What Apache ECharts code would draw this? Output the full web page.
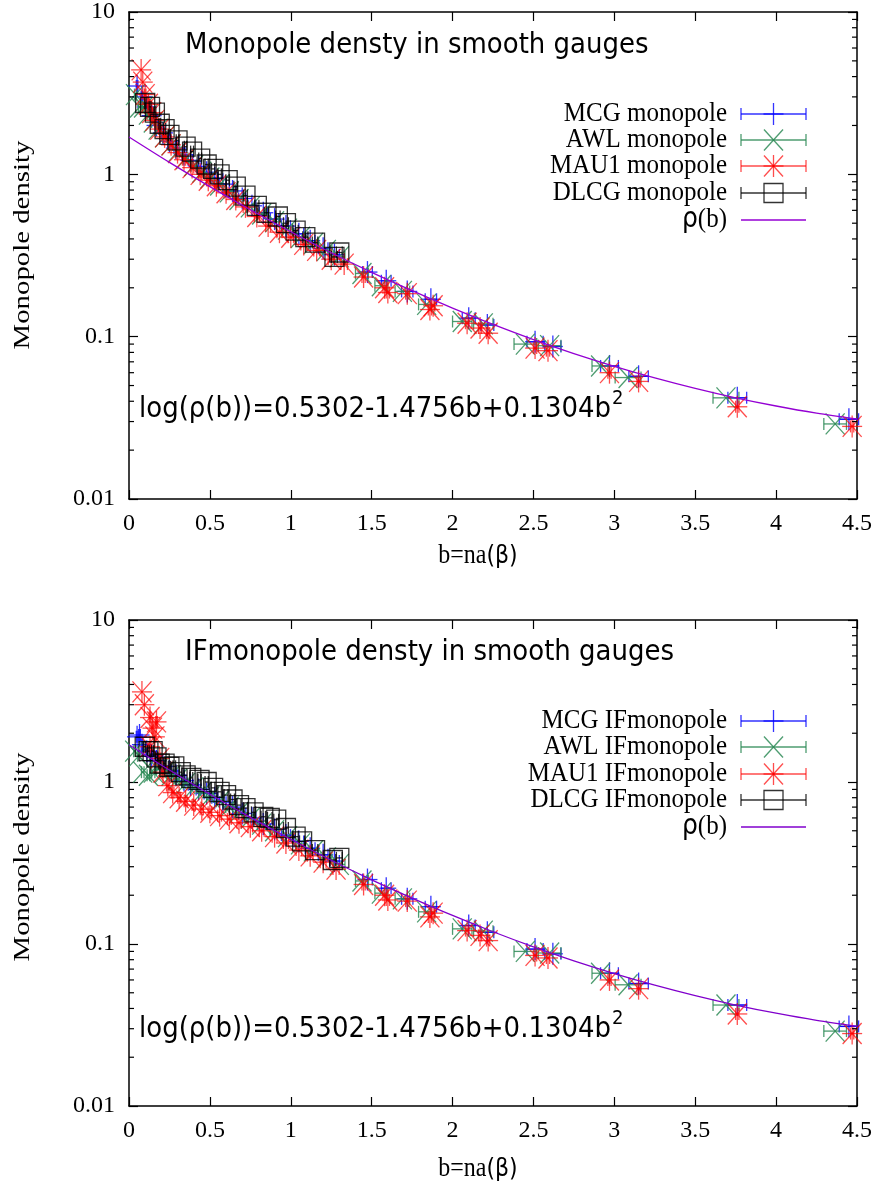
<!DOCTYPE html>
<html><head><meta charset="utf-8">
<script src="https://cdn.jsdelivr.net/npm/echarts@6/dist/echarts.min.js"></script>
<style>html,body{margin:0;padding:0;background:#fff}#c{width:880px;height:1196px}</style>
</head><body><div id="c"></div>
<script>
// ---------------- data ([b, density, x-error]) ----------------
const xTicks = [0, 0.5, 1, 1.5, 2, 2.5, 3, 3.5, 4, 4.5];
const yTicks = [0.01, 0.1, 1, 10];
const yMinorTicks = [0.02,0.03,0.04,0.05,0.06,0.07,0.08,0.09,0.2,0.3,0.4,0.5,0.6,0.7,0.8,0.9,2,3,4,5,6,7,8,9];

// fit curve rho(b), log(rho)=0.5302-1.4756b+0.1304b^2
const curveB   = [0,0.25,0.5,0.75,1,1.25,1.5,1.75,2,2.25,2.5,2.75,3,3.25,3.5,3.75,4,4.25,4.5];
const curveRho = [1.699,1.185,0.840,0.605,0.443,0.329,0.249,0.192,0.150,0.119,0.096,0.0787,0.0657,0.0557,0.0480,0.0420,0.0374,0.0338,0.0311];

const legendTop = ['MCG monopole','AWL monopole','MAU1 monopole','DLCG monopole'];
const legendBot = ['MCG IFmonopole','AWL IFmonopole','MAU1 IFmonopole','DLCG IFmonopole'];

// tails (b > 1.4) shared by both panels
const mcgTail = [[1.474,0.25,0.03],[1.59,0.221,0.03],[1.72,0.19,0.035],[1.866,0.17,0.035],[2.10,0.13,0.04],[2.215,0.118,0.04],[2.51,0.093,0.05],[2.62,0.087,0.05],[2.97,0.066,0.055],[3.15,0.057,0.06],[3.76,0.042,0.058],[4.45,0.031,0.06]];
const awlTail = [[1.44,0.245,0.04],[1.56,0.206,0.04],[1.69,0.19,0.045],[1.84,0.158,0.05],[2.06,0.124,0.06],[2.19,0.12,0.06],[2.45,0.09,0.07],[2.60,0.088,0.07],[2.915,0.066,0.053],[3.085,0.056,0.08],[3.69,0.042,0.08],[4.365,0.029,0.07]];
const mauTail = [[1.45,0.233,0.01],[1.58,0.2,0.01],[1.60,0.187,0.01],[1.72,0.184,0.01],[1.86,0.147,0.01],[1.88,0.155,0.01],[2.09,0.121,0.01],[2.17,0.113,0.01],[2.22,0.105,0.01],[2.51,0.085,0.01],[2.59,0.082,0.01],[2.97,0.060,0.01],[3.15,0.053,0.01],[3.76,0.037,0.01],[4.47,0.028,0.01]];

// top panel: monopole density
const mcgTop = [[0.05,3.5,0.005],[0.08,3.0,0.005],[0.11,2.6,0.006],[0.14,2.3,0.007],[0.17,2.0,0.008],[0.21,1.8,0.01],[0.25,1.6,0.01],[0.29,1.45,0.012],[0.34,1.32,0.012],[0.38,1.22,0.014],[0.43,1.12,0.015],[0.48,1.03,0.016],[0.53,0.95,0.018],[0.58,0.87,0.02],[0.64,0.79,0.02],[0.70,0.71,0.022],[0.76,0.64,0.024],[0.83,0.58,0.025],[0.90,0.53,0.026],[0.97,0.48,0.028],[1.05,0.43,0.03],[1.12,0.39,0.03],[1.20,0.35,0.03],[1.27,0.32,0.03]];
const awlTop = [[0.04,3.1,0.006],[0.065,2.6,0.007],[0.09,2.6,0.008],[0.12,2.35,0.008],[0.15,2.1,0.01],[0.18,1.9,0.01],[0.22,1.7,0.012],[0.26,1.52,0.012],[0.30,1.38,0.014],[0.35,1.25,0.015],[0.40,1.13,0.016],[0.45,1.03,0.018],[0.50,0.95,0.02],[0.56,0.86,0.02],[0.62,0.78,0.022],[0.68,0.70,0.024],[0.75,0.63,0.025],[0.82,0.57,0.026],[0.90,0.51,0.028],[0.98,0.46,0.03],[1.06,0.41,0.03],[1.14,0.375,0.032],[1.22,0.34,0.034],[1.30,0.31,0.035]];
const mauTop = [[0.075,4.4,0.004],[0.085,3.7,0.004],[0.10,3.1,0.005],[0.12,2.7,0.005],[0.14,2.4,0.006],[0.16,2.15,0.006],[0.19,1.9,0.007],[0.22,1.7,0.008],[0.26,1.52,0.008],[0.30,1.36,0.009],[0.34,1.23,0.01],[0.39,1.1,0.01],[0.44,1.0,0.01],[0.49,0.92,0.011],[0.54,0.85,0.012],[0.60,0.77,0.012],[0.66,0.70,0.013],[0.72,0.63,0.014],[0.79,0.55,0.015],[0.86,0.48,0.015],[0.93,0.44,0.016],[1.00,0.41,0.017],[1.08,0.37,0.018],[1.16,0.34,0.018],[1.25,0.30,0.019],[1.33,0.28,0.02]];
const dlcgTop = [[0.10,2.75,0.005],[0.13,2.6,0.005],[0.16,2.4,0.006],[0.19,2.05,0.006],[0.22,1.9,0.007],[0.25,1.75,0.007],[0.30,1.62,0.008],[0.35,1.48,0.008],[0.39,1.38,0.009],[0.44,1.25,0.009],[0.48,1.15,0.01],[0.52,1.08,0.01],[0.56,1.0,0.011],[0.61,0.92,0.011],[0.66,0.84,0.012],[0.72,0.74,0.012],[0.79,0.64,0.013],[0.85,0.58,0.014],[0.92,0.55,0.014],[0.97,0.50,0.015],[1.03,0.45,0.016],[1.09,0.41,0.016],[1.15,0.38,0.017],[1.27,0.31,0.018],[1.30,0.33,0.018]];

// bottom panel: IF monopole density
const mcgBot = [[0.05,1.9,0.005],[0.065,1.95,0.005],[0.08,1.7,0.005],[0.11,1.55,0.006],[0.14,1.45,0.007],[0.17,1.35,0.008],[0.21,1.25,0.01],[0.25,1.17,0.01],[0.29,1.1,0.012],[0.34,1.02,0.012],[0.38,0.96,0.014],[0.43,0.9,0.015],[0.48,0.85,0.016],[0.53,0.8,0.018],[0.58,0.75,0.02],[0.64,0.7,0.02],[0.70,0.64,0.022],[0.76,0.6,0.024],[0.83,0.55,0.025],[0.90,0.51,0.026],[0.97,0.47,0.028],[1.05,0.43,0.03],[1.12,0.39,0.03],[1.20,0.355,0.03],[1.27,0.325,0.03]];
const awlBot = [[0.035,1.55,0.006],[0.06,1.45,0.007],[0.085,1.15,0.008],[0.12,1.1,0.008],[0.15,1.15,0.01],[0.18,1.2,0.01],[0.22,1.15,0.012],[0.26,1.1,0.012],[0.30,1.04,0.014],[0.35,0.98,0.015],[0.40,0.92,0.016],[0.45,0.86,0.018],[0.50,0.81,0.02],[0.56,0.76,0.02],[0.62,0.70,0.022],[0.68,0.65,0.024],[0.75,0.60,0.025],[0.82,0.55,0.026],[0.90,0.50,0.028],[0.98,0.46,0.03],[1.06,0.415,0.03],[1.14,0.375,0.032],[1.22,0.34,0.034],[1.30,0.31,0.035]];
const mauBot = [[0.08,3.6,0.004],[0.095,3.0,0.004],[0.13,2.5,0.005],[0.17,2.35,0.005],[0.145,2.15,0.005],[0.16,1.9,0.006],[0.13,1.65,0.006],[0.19,1.4,0.007],[0.21,1.15,0.007],[0.24,0.95,0.008],[0.27,0.86,0.008],[0.31,0.8,0.009],[0.35,0.76,0.009],[0.40,0.72,0.01],[0.45,0.68,0.01],[0.50,0.65,0.011],[0.56,0.62,0.012],[0.62,0.59,0.012],[0.68,0.56,0.013],[0.75,0.53,0.014],[0.82,0.5,0.015],[0.90,0.46,0.015],[0.97,0.42,0.016],[1.05,0.38,0.017],[1.12,0.35,0.018],[1.20,0.32,0.018],[1.28,0.29,0.019]];
const dlcgBot = [[0.097,1.65,0.005],[0.12,1.55,0.005],[0.146,1.55,0.006],[0.17,1.42,0.006],[0.19,1.3,0.006],[0.22,1.3,0.007],[0.25,1.24,0.007],[0.28,1.25,0.008],[0.32,1.15,0.008],[0.35,1.1,0.009],[0.385,1.06,0.009],[0.436,1.03,0.01],[0.48,1.0,0.01],[0.52,0.92,0.011],[0.56,0.87,0.011],[0.60,0.83,0.012],[0.64,0.78,0.012],[0.68,0.72,0.012],[0.72,0.69,0.013],[0.77,0.65,0.013],[0.83,0.61,0.014],[0.87,0.6,0.014],[0.91,0.585,0.015],[0.97,0.52,0.015],[1.03,0.46,0.016],[1.07,0.43,0.016],[1.15,0.38,0.017],[1.26,0.33,0.018],[1.30,0.34,0.018]];

// ---------------- styling ----------------
const BLUE = '#0000ff', GREEN = '#2e8b57', RED = '#ff0000', BLACK = '#000000';
const PURPLE_TOP = '#9400d3', PURPLE_BOT = '#8000cc';
const SERIF = '"Liberation Serif","Times New Roman",serif';
const SANS = '"DejaVu Sans",sans-serif';
const LW = 1.3, CAP = 6;

function seg(x1, y1, x2, y2, st) {
  return { type: 'line', shape: { x1, y1, x2, y2 }, style: Object.assign({}, st), silent: true };
}
function marker(kind, cx, cy, st) {
  const out = [];
  if (kind === 'plus' || kind === 'star') {
    out.push(seg(cx - 10, cy, cx + 10, cy, st));
    out.push(seg(cx, cy - 11, cx, cy + 11, st));
  }
  if (kind === 'cross' || kind === 'star') {
    out.push(seg(cx - 9.5, cy - 10.5, cx + 9.5, cy + 10.5, st));
    out.push(seg(cx - 9.5, cy + 10.5, cx + 9.5, cy - 10.5, st));
  }
  if (kind === 'square') {
    out.push({ type: 'rect', shape: { x: cx - 9.5, y: cy - 9.5, width: 19, height: 19 },
      style: Object.assign({ fill: 'none' }, st), silent: true });
  }
  return out;
}
function errbar(x1, x2, y, st) {
  return [seg(x1, y, x2, y, st), seg(x1, y - CAP, x1, y + CAP, st), seg(x2, y - CAP, x2, y + CAP, st)];
}

function errSeries(data, kind, color, opacity, axIdx) {
  const st = { stroke: color, lineWidth: LW, opacity: opacity };
  return {
    type: 'custom', xAxisIndex: axIdx, yAxisIndex: axIdx, data: data, silent: true,
    renderItem: function (params, api) {
      const b = api.value(0), y = api.value(1), e = api.value(2);
      const c = api.coord([b, y]);
      const l = api.coord([b - e, y]);
      const r = api.coord([b + e, y]);
      let ch = [];
      if (r[0] - l[0] > 1.5) ch = ch.concat(errbar(l[0], r[0], c[1], st));
      ch = ch.concat(marker(kind, c[0], c[1], st));
      return { type: 'group', children: ch };
    }
  };
}
function minorSeries(axIdx) {
  const st = { stroke: '#000', lineWidth: 1.2 };
  return {
    type: 'custom', xAxisIndex: axIdx, yAxisIndex: axIdx, data: yMinorTicks.map(v => [v]), silent: true, z: 5,
    renderItem: function (params, api) {
      const v = api.value(0);
      const p = api.coord([xTicks[0], v]);
      const q = api.coord([xTicks[xTicks.length - 1], v]);
      return { type: 'group', children: [seg(p[0], p[1], p[0] + 5, p[1], st), seg(q[0] - 5, q[1], q[0], q[1], st)] };
    }
  };
}
function curveSeries(axIdx, color) {
  return {
    type: 'line', xAxisIndex: axIdx, yAxisIndex: axIdx, z: 10, silent: true,
    data: curveB.map((b, i) => [b, curveRho[i]]),
    smooth: 0.3, showSymbol: false, lineStyle: { color: color, width: 1.3 }
  };
}

const axLine = { show: true, onZero: false, lineStyle: { color: '#000', width: 1.5 } };
function xAx(grid, pos, labels) {
  return {
    type: 'value', gridIndex: grid, position: pos, min: xTicks[0], max: xTicks[xTicks.length - 1], interval: 0.5,
    axisLine: axLine, axisTick: { show: true, inside: true, length: 9, lineStyle: { color: '#000', width: 1.2 } },
    splitLine: { show: false },
    axisLabel: { show: labels, margin: 13, color: '#000', fontFamily: SERIF, fontSize: 24, formatter: v => String(v) }
  };
}
function yAx(grid, pos, labels) {
  return {
    type: 'log', logBase: 10, gridIndex: grid, position: pos, min: yTicks[0], max: yTicks[yTicks.length - 1],
    axisLine: axLine, axisTick: { show: true, inside: true, length: 9, lineStyle: { color: '#000', width: 1.2 } },
    splitLine: { show: false }, minorTick: { show: false },
    axisLabel: { show: labels, margin: 14, color: '#000', fontFamily: SERIF, fontSize: 24,
      formatter: v => String(+(+v).toPrecision(1)) }
  };
}

// ---------------- texts & legend (graphic) ----------------
function panelGraphics(cfg) {
  const g = [];
  g.push({ type: 'text', x: 185, y: cfg.titleY, scaleY: 1.12, silent: true,
    style: { text: cfg.title, font: '26px ' + SANS, fill: '#000', textAlign: 'left', textVerticalAlign: 'middle' } });
  g.push({ type: 'text', x: 139, y: cfg.eqY, scaleY: 1.1, silent: true,
    style: { text: '{a|log(ρ(b))=0.5302-1.4756b+0.1304b}{s|2}', textAlign: 'left', textVerticalAlign: 'middle',
      rich: { a: { fontFamily: SANS, fontSize: 26, fill: '#000' },
              s: { fontFamily: SANS, fontSize: 18, padding: [0, 0, 20, 1], fill: '#000' } } } });
  // axis titles
  g.push({ type: 'text', x: 23, y: cfg.ytY, rotation: Math.PI / 2, scaleX: 1.2, silent: true,
    style: { text: 'Monopole density', font: '24px ' + SERIF, fill: '#000', textAlign: 'center', textVerticalAlign: 'middle' } });
  g.push({ type: 'text', x: 478, y: cfg.xtY, scaleY: 1.15, silent: true,
    style: { text: '{r|b=na}{s|(β)}', textAlign: 'center', textVerticalAlign: 'middle',
      rich: { r: { fontFamily: SERIF, fontSize: 24, fill: '#000' }, s: { fontFamily: SANS, fontSize: 22, fill: '#000' } } } });
  // legend
  const kinds = ['plus', 'cross', 'star', 'square'];
  const cols = [BLUE, GREEN, RED, BLACK];
  const ops = [0.8, 0.85, 0.7, 0.8];
  cfg.legend.forEach((name, i) => {
    const y = cfg.rows[i];
    g.push({ type: 'text', x: 727, y: y, scaleY: 1.1, silent: true,
      style: { text: name, font: '25px ' + SERIF, fill: '#000', textAlign: 'right', textVerticalAlign: 'middle' } });
    const st = { stroke: cols[i], lineWidth: LW, opacity: ops[i] };
    errbar(741, 806, y, st).concat(marker(kinds[i], 773.5, y, st)).forEach(e => g.push(e));
  });
  const y5 = cfg.rows[4];
  g.push({ type: 'text', x: 727, y: y5, scaleY: 1.1, silent: true,
    style: { text: '{s|ρ}{r|(b)}', textAlign: 'right', textVerticalAlign: 'middle',
      rich: { s: { fontFamily: SANS, fontSize: 25, fill: '#000' }, r: { fontFamily: SERIF, fontSize: 25, fill: '#000' } } } });
  g.push(seg(741, y5, 806, y5, { stroke: cfg.curveColor, lineWidth: 1.3 }));
  return g;
}

const graphics = panelGraphics({ title: 'Monopole densty in smooth gauges', titleY: 45, eqY: 410, ytY: 245, xtY: 556,
  legend: legendTop, rows: [114, 140, 166, 193, 220], curveColor: PURPLE_TOP })
  .concat(panelGraphics({ title: 'IFmonopole densty in smooth gauges', titleY: 652, eqY: 1030, ytY: 857, xtY: 1169,
  legend: legendBot, rows: [721, 747, 774, 800, 827], curveColor: PURPLE_BOT }));

const option = {
  animation: false,
  backgroundColor: '#ffffff',
  grid: [
    { left: 129, top: 10, width: 728, height: 489 },
    { left: 129, top: 620, width: 728, height: 486 }
  ],
  xAxis: [xAx(0, 'bottom', true), xAx(0, 'top', false), xAx(1, 'bottom', true), xAx(1, 'top', false)],
  yAxis: [yAx(0, 'left', true), yAx(0, 'right', false), yAx(1, 'left', true), yAx(1, 'right', false)],
  series: [
    minorSeries(0),
    errSeries(mcgTop.concat(mcgTail), 'plus', BLUE, 0.8, 0),
    errSeries(awlTop.concat(awlTail), 'cross', GREEN, 0.85, 0),
    errSeries(mauTop.concat(mauTail), 'star', RED, 0.7, 0),
    errSeries(dlcgTop, 'square', BLACK, 0.8, 0),
    curveSeries(0, PURPLE_TOP),
    minorSeries(2),
    errSeries(mcgBot.concat(mcgTail), 'plus', BLUE, 0.8, 2),
    errSeries(awlBot.concat(awlTail), 'cross', GREEN, 0.85, 2),
    errSeries(mauBot.concat(mauTail), 'star', RED, 0.7, 2),
    errSeries(dlcgBot, 'square', BLACK, 0.8, 2),
    curveSeries(2, PURPLE_BOT)
  ],
  graphic: graphics
};

const chart = echarts.init(document.getElementById('c'), null, { renderer: 'canvas' });
chart.setOption(option);
</script>
</body></html>
